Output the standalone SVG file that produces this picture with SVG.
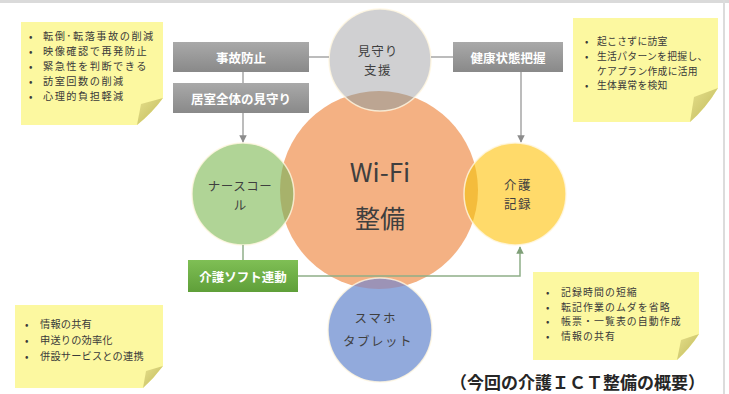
<svg xmlns="http://www.w3.org/2000/svg" width="729" height="394" viewBox="0 0 729 394">
<style>
.jp{font-family:"Noto Sans CJK JP","Noto Sans",sans-serif;}
.ct{font-family:"Noto Sans CJK JP","Noto Sans",sans-serif;fill:#3f3f3f;text-anchor:middle;dominant-baseline:central;}
.bx{font-family:"Noto Sans CJK JP",sans-serif;fill:#ffffff;font-weight:bold;font-size:12.5px;text-anchor:middle;dominant-baseline:central;}
.nt{font-family:"Noto Sans CJK JP",sans-serif;fill:#3a3a3a;dominant-baseline:central;}
.note{fill:#fcf8a0;}
.fold{fill:url(#gf);}
.ln{stroke:#a6a6a6;stroke-width:1.5;fill:none;}
.lg{stroke:#8fae88;stroke-width:1.5;fill:none;}
.rim{fill:none;stroke:#fff6e0;stroke-width:1.5;stroke-opacity:0.8;}
</style>
<defs>
<linearGradient id="gg" x1="0" y1="0" x2="0" y2="1"><stop offset="0" stop-color="#a9a9a9"/><stop offset="1" stop-color="#898989"/></linearGradient>
<linearGradient id="gn" x1="0" y1="0" x2="0" y2="1"><stop offset="0" stop-color="#7fbf55"/><stop offset="1" stop-color="#5f9f39"/></linearGradient>
<linearGradient id="gf" x1="0" y1="0" x2="1" y2="1"><stop offset="0" stop-color="#e6e08a"/><stop offset="1" stop-color="#bfb85c"/></linearGradient>
<clipPath id="co"><circle cx="379" cy="190" r="99"/></clipPath>
<marker id="ah" viewBox="0 0 10 10" refX="9" refY="5" markerWidth="5" markerHeight="5" orient="auto"><path d="M0,0 L10,5 L0,10 z" fill="#8c8c8c"/></marker>
<marker id="ahg" viewBox="0 0 10 10" refX="9" refY="5" markerWidth="5" markerHeight="5" orient="auto"><path d="M0,0 L10,5 L0,10 z" fill="#7f9f78"/></marker>
</defs>
<rect x="0" y="0" width="729" height="394" fill="#ffffff"/>
<rect x="0" y="0" width="729" height="3" fill="#dadada"/>
<rect x="723" y="0" width="2" height="394" fill="#dcdcdc"/>

<g id="wifi">
<circle cx="379" cy="190" r="99" fill="#f4b183"/>
<text class="ct" x="380" y="170" font-size="26">Wi-Fi</text>
<text class="ct" x="380" y="217" font-size="25">整備</text>
</g>

<g id="mimamori">
<circle cx="380" cy="60" r="51" fill="#d0d0d2"/>
<circle cx="380" cy="60" r="51" fill="#bca592" clip-path="url(#co)"/>
<circle class="rim" cx="380" cy="60" r="51"/>
<text class="ct" x="378" y="50" font-size="12.5" letter-spacing="1">見守り</text>
<text class="ct" x="378" y="69" font-size="12.5" letter-spacing="1.5">支援</text>
</g>

<g id="nursecall">
<circle cx="243" cy="194" r="51" fill="#b0d496"/>
<circle cx="243" cy="194" r="51" fill="#a7b26b" clip-path="url(#co)"/>
<circle class="rim" cx="243" cy="194" r="51"/>
<text class="ct" x="240" y="185" font-size="12.5" letter-spacing="0.5">ナースコー</text>
<text class="ct" x="240" y="204" font-size="12.5">ル</text>
</g>

<g id="kaigokiroku">
<circle cx="515" cy="194" r="51" fill="#ffda6a"/>
<circle cx="515" cy="194" r="51" fill="#f4bc3c" clip-path="url(#co)"/>
<circle class="rim" cx="515" cy="194" r="51"/>
<text class="ct" x="518" y="184.5" font-size="12.5" letter-spacing="1.5">介護</text>
<text class="ct" x="518" y="203.5" font-size="12.5" letter-spacing="1.5">記録</text>
</g>

<g id="sumaho">
<circle cx="380" cy="330" r="52" fill="#92aadc"/>
<circle cx="380" cy="330" r="52" fill="#9c93b6" clip-path="url(#co)"/>
<circle class="rim" cx="380" cy="330" r="52"/>
<text class="ct" x="376" y="317" font-size="12.5" letter-spacing="2">スマホ</text>
<text class="ct" x="378" y="340" font-size="12.5" letter-spacing="1.5">タブレット</text>
</g>

<g id="connectors">
<line class="ln" x1="309" y1="57" x2="329" y2="57"/>
<line class="ln" x1="431" y1="57" x2="453" y2="57"/>
<line class="ln" x1="243" y1="72" x2="243" y2="83"/>
<line class="ln" x1="243" y1="113" x2="243" y2="142" marker-end="url(#ah)"/>
<line class="ln" x1="521" y1="72" x2="521" y2="142" marker-end="url(#ah)"/>
<line class="lg" x1="243" y1="245" x2="243" y2="260"/>
<polyline class="lg" points="298,276 520,276 520,247" marker-end="url(#ahg)"/>
</g>

<g id="jikoboshi">
<rect x="173" y="42" width="136" height="30" fill="url(#gg)"/>
<text class="bx" x="241" y="57">事故防止</text>
</g>
<g id="kyoshitsu">
<rect x="173" y="83" width="136" height="30" fill="url(#gg)"/>
<text class="bx" x="241" y="98">居室全体の見守り</text>
</g>
<g id="kenko">
<rect x="453" y="42" width="110" height="30" fill="url(#gg)"/>
<text class="bx" x="508" y="57">健康状態把握</text>
</g>
<g id="softrendo">
<rect x="188" y="260" width="110" height="32" fill="url(#gn)"/>
<text class="bx" x="243" y="276">介護ソフト連動</text>
</g>

<g id="note-tl">
<path class="note" d="M21,22 H163 V98 Q152,113 137,125 H21 Z"/>
<path class="fold" d="M163,98 L141,104 L137,125 Q152,113 163,98 Z"/>
<g class="nt" font-size="10.2" letter-spacing="1.5">
<text x="29" y="35">•</text><text x="43" y="35">転倒･転落事故の削減</text>
<text x="29" y="50">•</text><text x="43" y="50">映像確認で再発防止</text>
<text x="29" y="65">•</text><text x="43" y="65">緊急性を判断できる</text>
<text x="29" y="80">•</text><text x="43" y="80">訪室回数の削減</text>
<text x="29" y="95">•</text><text x="43" y="95">心理的負担軽減</text>
</g>
</g>

<g id="note-tr">
<path class="note" d="M573,18 H718 V88 Q706,108 690,122 H573 Z"/>
<path class="fold" d="M718,88 L694,97 L690,122 Q706,108 718,88 Z"/>
<g class="nt" font-size="9.8" letter-spacing="0.3">
<text x="585" y="41">•</text><text x="597" y="41">起こさずに訪室</text>
<text x="585" y="56">•</text><text x="597" y="56">生活パターンを把握し、</text>
<text x="597" y="70.5">ケアプラン作成に活用</text>
<text x="585" y="85">•</text><text x="597" y="85">生体異常を検知</text>
</g>
</g>

<g id="note-bl">
<path class="note" d="M15,305 H163 V366 Q154,378 143,388 H15 Z"/>
<path class="fold" d="M163,366 L146,371 L143,388 Q154,378 163,366 Z"/>
<g class="nt" font-size="10.2" letter-spacing="0.2">
<text x="25" y="323">•</text><text x="40" y="323">情報の共有</text>
<text x="25" y="339">•</text><text x="40" y="339">申送りの効率化</text>
<text x="25" y="355">•</text><text x="40" y="355">併設サービスとの連携</text>
</g>
</g>

<g id="note-br">
<path class="note" d="M533,272 H699 V334 Q690,348 677,360 H533 Z"/>
<path class="fold" d="M699,334 L681,340 L677,360 Q690,348 699,334 Z"/>
<g class="nt" font-size="9.9" letter-spacing="1.1">
<text x="546" y="292">•</text><text x="561" y="292">記録時間の短縮</text>
<text x="546" y="306.5">•</text><text x="561" y="306.5">転記作業のムダを省略</text>
<text x="546" y="321">•</text><text x="561" y="321">帳票・一覧表の自動作成</text>
<text x="546" y="335.5">•</text><text x="561" y="335.5">情報の共有</text>
</g>
</g>

<text class="jp" x="705" y="381" font-size="17" font-weight="bold" fill="#262626" text-anchor="end" dominant-baseline="central">（今回の介護ＩＣＴ整備の概要）</text>
</svg>
